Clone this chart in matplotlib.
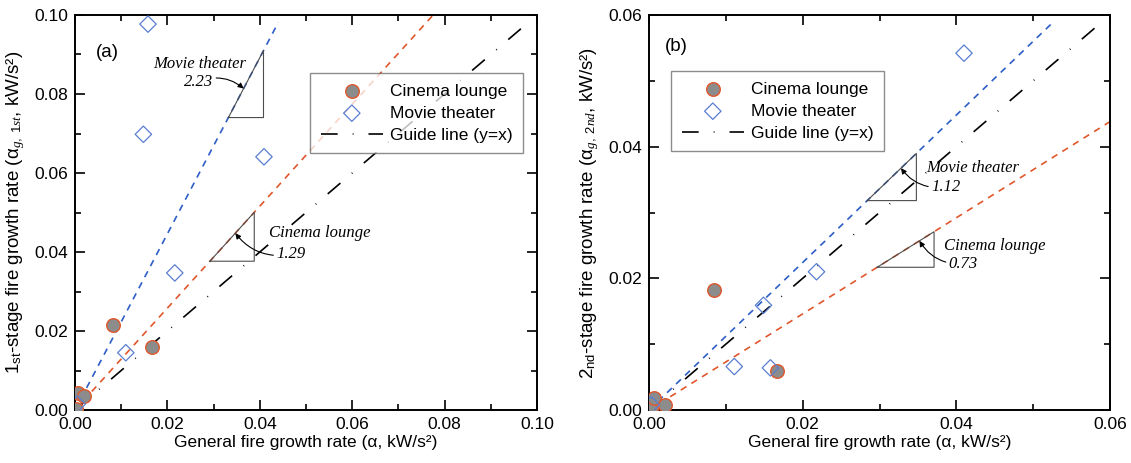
import matplotlib
matplotlib.use('Agg')
import matplotlib.pyplot as plt
import numpy as np
from matplotlib.ticker import MultipleLocator

plt.rcParams['font.family'] = ['Liberation Sans', 'DejaVu Sans']
plt.rcParams['mathtext.fontset'] = 'custom'
plt.rcParams['mathtext.rm'] = 'Liberation Sans'
plt.rcParams['mathtext.it'] = 'Liberation Serif:italic'
plt.rcParams['mathtext.bf'] = 'Liberation Sans:bold'

# (a) first-stage growth rate vs general growth rate
a_lounge_x = [0.0002, 0.0006, 0.0020, 0.0083, 0.0166]
a_lounge_y = [0.0003, 0.0042, 0.0036, 0.0214, 0.0159]
a_theater_x = [0.0005, 0.0110, 0.0148, 0.0158, 0.0216, 0.0409]
a_theater_y = [0.0015, 0.0145, 0.0698, 0.0977, 0.0347, 0.0641]
a_slope_theater = 2.23
a_slope_lounge = 1.29

# (b) second-stage growth rate vs general growth rate
b_lounge_x = [0.0002, 0.0006, 0.0021, 0.0085, 0.0167]
b_lounge_y = [0.0002, 0.0018, 0.0008, 0.0182, 0.0060]
b_theater_x = [0.0003, 0.0111, 0.0149, 0.0158, 0.0218, 0.0410]
b_theater_y = [0.0008, 0.0066, 0.0159, 0.0064, 0.0210, 0.0542]
b_slope_theater = 1.12
b_slope_lounge = 0.73

RED = '#e0572c'
BLUE = '#2d5ec6'
GRAY = '#8c8c8c'
DIAMOND = '#5a7ed0'

fig = plt.figure(figsize=(11.31, 4.63), dpi=100)
ax1 = fig.add_axes([75 / 1131, 1 - 410 / 463, 462 / 1131, 395 / 463])
ax2 = fig.add_axes([649 / 1131, 1 - 410 / 463, 461 / 1131, 395 / 463])


def slope_triangle(ax, x0, x1, k):
    ax.plot([x0, x1, x1, x0], [k * x0, k * x0, k * x1, k * x0],
            color='#4d4d4d', lw=0.8, zorder=3)


def draw_panel(ax, lx, ly, tx, ty, k_t, k_l, xmax_t, xmax_l, lim, step):
    ax.plot([0, xmax_t], [0, k_t * xmax_t], color=BLUE, lw=1.2,
            linestyle=(0, (4, 3.5)), zorder=2)
    ax.plot([0, xmax_l], [0, k_l * xmax_l], color=RED, lw=1.2,
            linestyle=(0, (4, 3.5)), zorder=2)
    ax.scatter(lx, ly, s=95, facecolor=GRAY, edgecolor=RED, linewidth=1.0,
               zorder=5, label='Cinema lounge')
    ax.scatter(tx, ty, s=70, marker='D', facecolor='none', edgecolor=DIAMOND,
               linewidth=0.9, zorder=5, label='Movie theater')
    ax.plot([0, lim * 0.988], [0, lim * 0.988], color='black', lw=1.2,
            linestyle=(0, (10, 9, 0.5, 9)), zorder=2,
            label='Guide line (y=x)')
    ax.set_xlim(0, lim)
    ax.set_ylim(0, lim)
    ax.xaxis.set_major_locator(MultipleLocator(step))
    ax.yaxis.set_major_locator(MultipleLocator(step))
    ax.xaxis.set_minor_locator(MultipleLocator(step / 2))
    ax.yaxis.set_minor_locator(MultipleLocator(step / 2))
    ax.xaxis.set_major_formatter(lambda v, p: f'{v:.2f}')
    ax.yaxis.set_major_formatter(lambda v, p: f'{v:.2f}')
    ax.tick_params(which='both', direction='in', top=True, right=True,
                   labelsize=12.5, width=1.2, colors='black', pad=5)
    ax.tick_params(which='major', length=7)
    ax.tick_params(which='minor', length=4)
    for s in ax.spines.values():
        s.set_linewidth(1.4)
    ax.set_xlabel('General fire growth rate (α, kW/s²)', fontsize=12.5,
                  labelpad=2)


draw_panel(ax1, a_lounge_x, a_lounge_y, a_theater_x, a_theater_y,
           a_slope_theater, a_slope_lounge, 0.044, 0.0775, 0.10, 0.02)
draw_panel(ax2, b_lounge_x, b_lounge_y, b_theater_x, b_theater_y,
           b_slope_theater, b_slope_lounge, 0.0528, 0.06, 0.06, 0.02)

ax1.set_ylabel(r'$1_{\mathrm{st}}$-stage fire growth rate (α$_{g,\ 1st}$, kW/s²)',
               fontsize=13.5, labelpad=5)
ax2.set_ylabel(r'$2_{\mathrm{nd}}$-stage fire growth rate (α$_{g,\ 2nd}$, kW/s²)',
               fontsize=13.5, labelpad=5)

ax1.text(0.007, 0.0905, '(a)', fontsize=13.5, ha='center', va='center')
ax2.text(0.0036, 0.0552, '(b)', fontsize=13.5, ha='center', va='center')

# slope triangles
slope_triangle(ax1, 0.0332, 0.0408, a_slope_theater)
slope_triangle(ax1, 0.0292, 0.0388, a_slope_lounge)
slope_triangle(ax2, 0.0284, 0.0348, b_slope_theater)
slope_triangle(ax2, 0.0297, 0.0371, b_slope_lounge)

note = dict(fontsize=12, family='Liberation Serif', style='italic',
            ha='center', va='center')
arrow = dict(arrowstyle='-|>', color='black', lw=0.8, mutation_scale=8,
             shrinkA=0, shrinkB=0)

ax1.text(0.0270, 0.0877, 'Movie theater', **note)
ax1.annotate('2.23', xy=(0.0365, a_slope_theater * 0.0365),
             xytext=(0.0268, 0.0831), textcoords='data',
             arrowprops=dict(arrow, connectionstyle='arc3,rad=-0.3'), **note)
ax1.text(0.0529, 0.0449, 'Cinema lounge', **note)
ax1.annotate('1.29', xy=(0.0347, a_slope_lounge * 0.0347),
             xytext=(0.0467, 0.0394), textcoords='data',
             arrowprops=dict(arrow, connectionstyle='arc3,rad=-0.3'), **note)

ax2.text(0.0421, 0.0367, 'Movie theater', **note)
ax2.annotate('1.12', xy=(0.0328, b_slope_theater * 0.0328),
             xytext=(0.0386, 0.0339), textcoords='data',
             arrowprops=dict(arrow, connectionstyle='arc3,rad=-0.3'), **note)
ax2.text(0.0450, 0.0249, 'Cinema lounge', **note)
ax2.annotate('0.73', xy=(0.0352, b_slope_lounge * 0.0352),
             xytext=(0.0409, 0.0222), textcoords='data',
             arrowprops=dict(arrow, connectionstyle='arc3,rad=-0.3'), **note)

leg_kw = dict(fontsize=12.5, frameon=True, fancybox=False, edgecolor='#666666',
              framealpha=0.75, handlelength=3.6, handletextpad=0.4,
              borderpad=0.6, labelspacing=0.4, borderaxespad=0)
leg1 = ax1.legend(loc='upper left', bbox_to_anchor=(0.509, 0.853), **leg_kw)
leg2 = ax2.legend(loc='upper left', bbox_to_anchor=(0.048, 0.858), **leg_kw)
for leg in (leg1, leg2):
    leg.get_frame().set_linewidth(1.0)
    leg.set_zorder(4)

fig.savefig('out.png', dpi=100)
